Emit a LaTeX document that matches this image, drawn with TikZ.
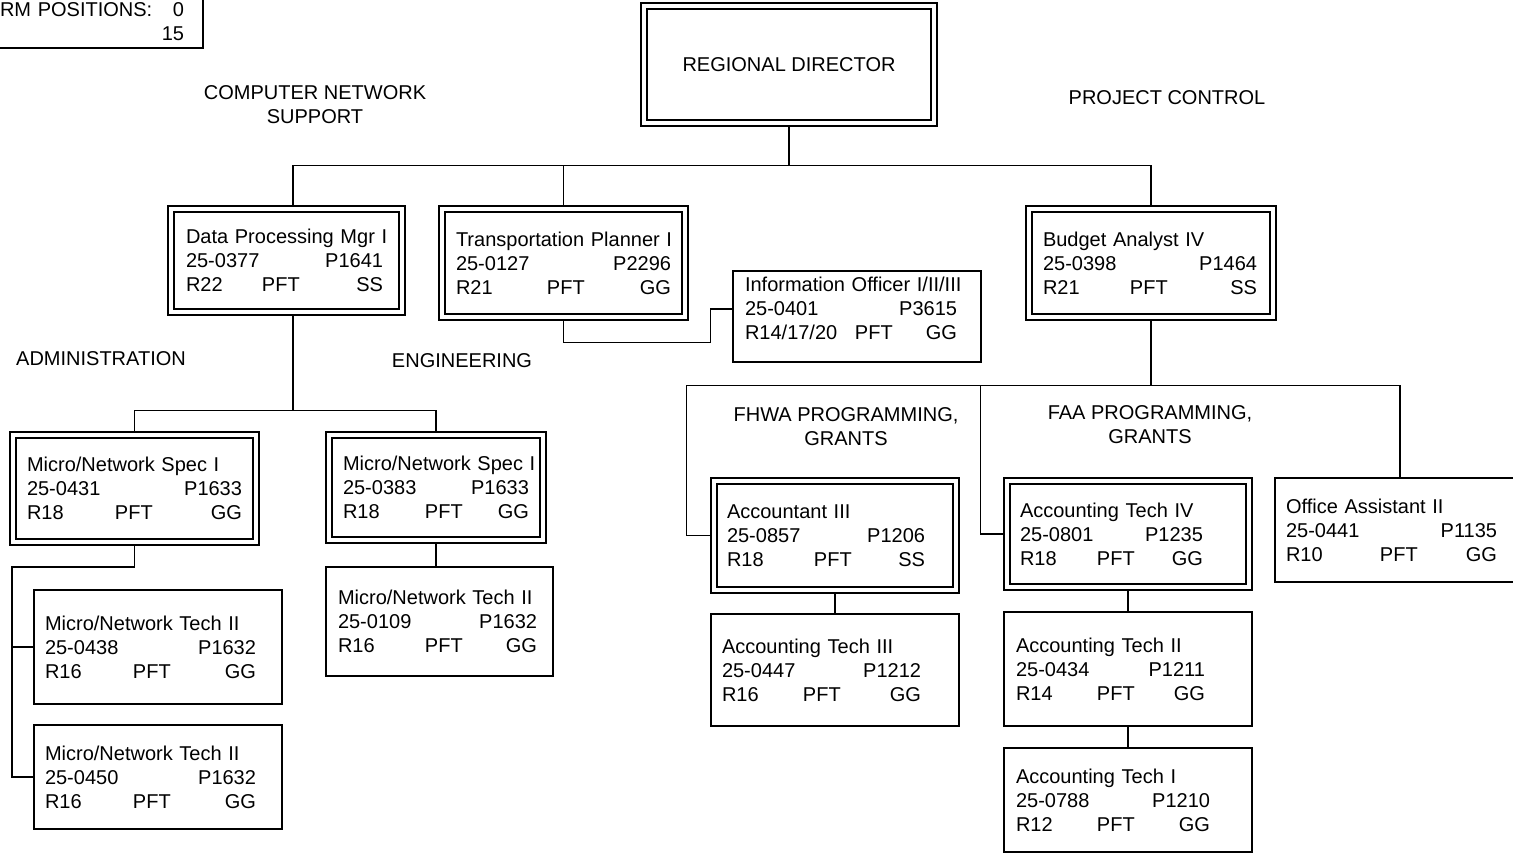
\documentclass[tikz,border=0pt]{standalone}
\usepackage{fontspec}
\setmainfont{Liberation Sans}
\usetikzlibrary{calc}
\newdimen\pxunit \pxunit=0.75pt
\newcommand{\post}[8][82]{\mbox{#3}\\\makebox[#2\pxunit][l]{#4\hfill#5}\\\makebox[#2\pxunit][l]{\makebox[#1\pxunit][l]{#6}#7\hfill#8}}

\tikzset{
  box/.style={draw, line width=1pt, rectangle, inner sep=0pt, align=left, font=\fontsize{15}{18}\selectfont},
  dbox/.style={box, double, double distance=3.5pt, outer sep=2.75pt},
  head/.style={font=\fontsize{15}{18}\selectfont, align=center},
  link/.style={line width=1pt}
}

\begin{document}
\begin{tikzpicture}[x=0.75pt,y=-0.75pt]
\useasboundingbox (0,0) rectangle (1513,854);
\clip (0,0) rectangle (1513,854);

\node[box, minimum width=222\pxunit, minimum height=53\pxunit, text width=184\pxunit] (perm) at (92,21.5) {RM POSITIONS:\hfill 0\\\mbox{}\hfill 15};

\node[dbox, minimum width=290\pxunit, minimum height=117\pxunit, align=center] (dir) at (789,64.5) {REGIONAL DIRECTOR};

\node[dbox, minimum width=231\pxunit, minimum height=103\pxunit, text width=201\pxunit] (dpm) at (286.5,260.5) {\post[76]{197}{Data Processing Mgr I}{25-0377}{P1641}{R22}{PFT}{SS}};
\node[dbox, minimum width=243\pxunit, minimum height=108\pxunit, text width=215\pxunit] (tpl) at (563.5,263) {\post[91]{215}{Transportation Planner I}{25-0127}{P2296}{R21}{PFT}{GG}};
\node[box, minimum width=248\pxunit, minimum height=91\pxunit, text width=224\pxunit, text height=13pt, text depth=51.2pt] (info) at (857,316.5) {\post[110]{212}{Information Officer I/II/III}{25-0401}{P3615}{R14/17/20}{PFT}{GG}};
\node[dbox, minimum width=244\pxunit, minimum height=108\pxunit, text width=216\pxunit] (bud) at (1151,263) {\post[87]{214}{Budget Analyst IV}{25-0398}{P1464}{R21}{PFT}{SS}};

\node[dbox, minimum width=243\pxunit, minimum height=107\pxunit, text width=215\pxunit] (specA) at (134.5,488.5) {\post[88]{215}{Micro/Network Spec I}{25-0431}{P1633}{R18}{PFT}{GG}};
\node[dbox, minimum width=214\pxunit, minimum height=105\pxunit, text width=186\pxunit] (specB) at (436,487.5) {\post[82]{186}{Micro/Network Spec I}{25-0383}{P1633}{R18}{PFT}{GG}};
\node[box, minimum width=248\pxunit, minimum height=114\pxunit, text width=226\pxunit] (techA) at (158,647) {\post[88]{211}{Micro/Network Tech II}{25-0438}{P1632}{R16}{PFT}{GG}};
\node[box, minimum width=248\pxunit, minimum height=104\pxunit, text width=226\pxunit] (techB) at (158,777) {\post[88]{211}{Micro/Network Tech II}{25-0450}{P1632}{R16}{PFT}{GG}};
\node[box, minimum width=227\pxunit, minimum height=109\pxunit, text width=203\pxunit] (techC) at (439.5,621.5) {\post[87]{199}{Micro/Network Tech II}{25-0109}{P1632}{R16}{PFT}{GG}};

\node[dbox, minimum width=242\pxunit, minimum height=109\pxunit, text width=216\pxunit] (acc3) at (835,535.5) {\post[87]{198}{Accountant III}{25-0857}{P1206}{R18}{PFT}{SS}};
\node[box, minimum width=248\pxunit, minimum height=112\pxunit, text width=226\pxunit] (at3) at (835,670) {\post[81]{199}{Accounting Tech III}{25-0447}{P1212}{R16}{PFT}{GG}};
\node[dbox, minimum width=242\pxunit, minimum height=106\pxunit, text width=216\pxunit] (at4) at (1128,534) {\post[77]{183}{Accounting Tech IV}{25-0801}{P1235}{R18}{PFT}{GG}};
\node[box, minimum width=248\pxunit, minimum height=114\pxunit, text width=224\pxunit] (at2) at (1128,669) {\post[81]{189}{Accounting Tech II}{25-0434}{P1211}{R14}{PFT}{GG}};
\node[box, minimum width=248\pxunit, minimum height=104\pxunit, text width=224\pxunit] (at1) at (1128,800) {\post[81]{194}{Accounting Tech I}{25-0788}{P1210}{R12}{PFT}{GG}};
\node[box, minimum width=250\pxunit, minimum height=104\pxunit, text width=228\pxunit] (off) at (1400,530) {\post[94]{211}{Office Assistant II}{25-0441}{P1135}{R10}{PFT}{GG}};

\node[head] (cns) at (315,105) {COMPUTER NETWORK\\SUPPORT};
\node[head] (pc) at (1167,98) {PROJECT CONTROL};
\node[head] (adm) at (101,359) {ADMINISTRATION};
\node[head] (eng) at (462,361) {ENGINEERING};
\node[head] (fhwa) at (846,427) {FHWA PROGRAMMING,\\GRANTS};
\node[head] (faa) at (1150,425) {FAA PROGRAMMING,\\GRANTS};

\draw[link] (dir.south) -- ++(0,39) coordinate (top);
\draw[link] (top) -| ($(dpm.north)+(6.5,0)$);
\draw[link] (top) -| (tpl.north);
\draw[link] (top) -| (bud.north);
\draw[link] ($(dpm.south)+(6.5,0)$) -- ++(0,95) coordinate (split);
\draw[link] (split) -| (specA.north);
\draw[link] (split) -| (specB.north);
\draw[link] (specA.south) |- (12,567) coordinate (spine) |- (techB.west);
\draw[link] (techA.west) -- (techA.west -| spine);
\draw[link] (specB.south) -- (specB.south |- techC.north);
\draw[link] (tpl.south) -- ++(0,22) -| ($(info.west)+(-22,-7.5)$) -- ++(22,0);
\draw[link] (bud.south) -- ++(0,65) coordinate (hub);
\draw[link] (hub) -| (off.north);
\draw[link] (acc3.west) -- ++(-24,0) |- (hub);
\draw[link] (at4.west) -- ++(-23,0) |- (hub);
\draw[link] (acc3.south) -- (at3.north);
\draw[link] (at4.south) -- (at2.north);
\draw[link] (at2.south) -- (at1.north);
\end{tikzpicture}
\end{document}
